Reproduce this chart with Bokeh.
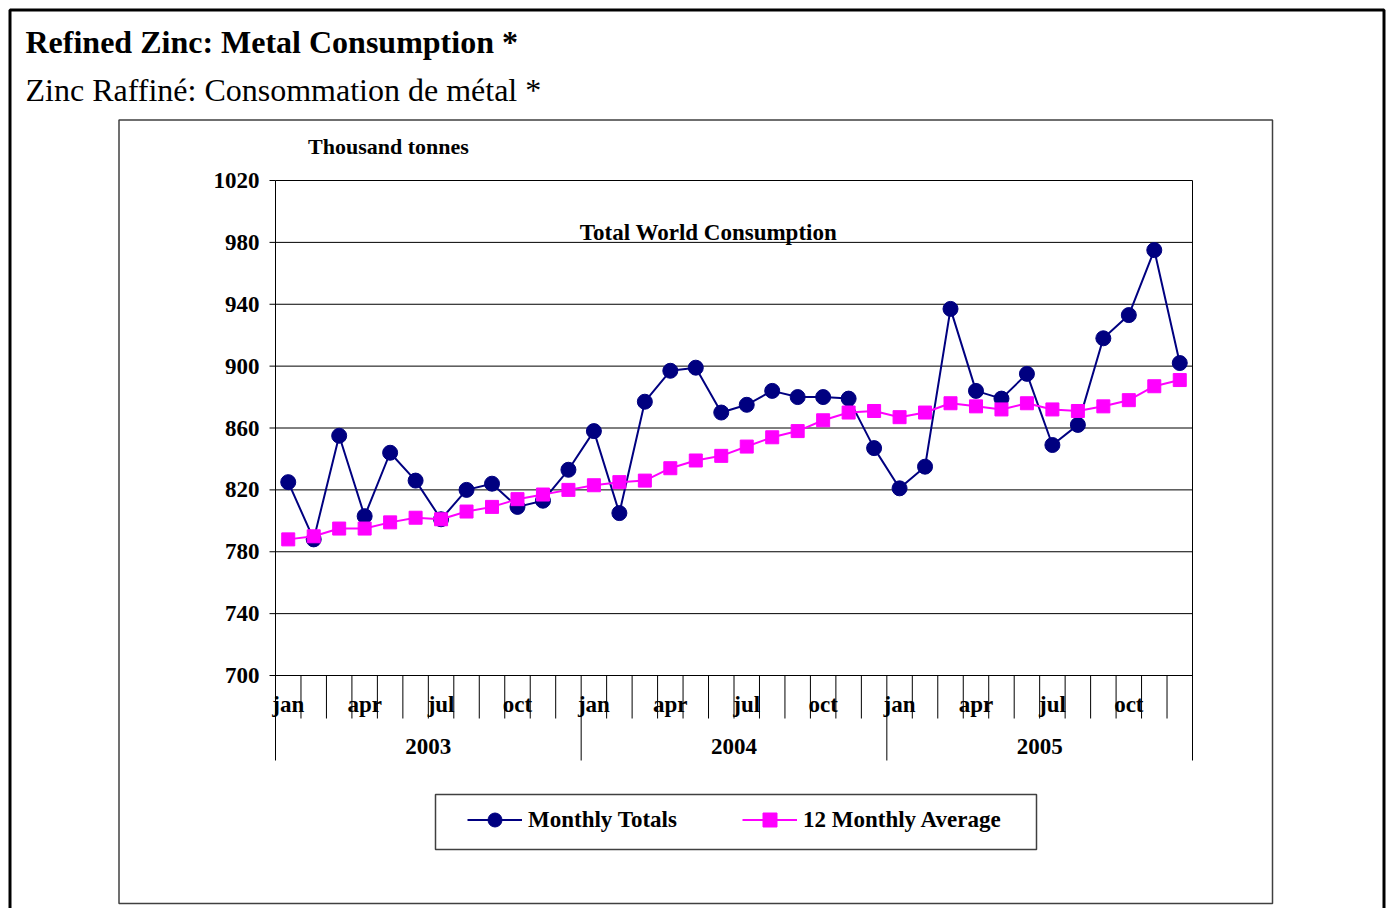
from bokeh.plotting import figure
from bokeh.models import Range1d, Label, BoxAnnotation, Legend, LegendItem
from bokeh.core.properties import value
from bokeh.embed import file_html
from bokeh.resources import INLINE

# ---------------- data ----------------
month_names = ["jan", "feb", "mar", "apr", "may", "jun",
               "jul", "aug", "sep", "oct", "nov", "dec"]
labelled_months = ["jan", "apr", "jul", "oct"]
years = ["2003", "2004", "2005"]
monthly_totals = [825, 788, 855, 803, 844, 826, 801, 820, 824, 809, 813, 833,
                  858, 805, 877, 897, 899, 870, 875, 884, 880, 880, 879, 847,
                  821, 835, 937, 884, 879, 895, 849, 862, 918, 933, 975, 902]
avg_12_months = [788, 790, 795, 795, 799, 802, 801, 806, 809, 814, 817, 820,
                 823, 825, 826, 834, 839, 842, 848, 854, 858, 865, 870, 871,
                 867, 870, 876, 874, 872, 876, 872, 871, 874, 878, 887, 891]
y_ticks = [700, 740, 780, 820, 860, 900, 940, 980, 1020]

title_text = "Refined Zinc: Metal Consumption *"
subtitle_text = "Zinc Raffiné: Consommation de métal *"
unit_text = "Thousand tonnes"
chart_title = "Total World Consumption"
series_names = ["Monthly Totals", "12 Monthly Average"]

# ---------------- layout (canvas pixels) ----------------
W, H = 1386, 908
PL, PR, PT = 275, 1192, 180          # plot area left / right / top (1020 line)
AXIS_Y = 675                         # pixel row of the 700 line
FB = 760                             # bottom of the year separators
n_months = len(monthly_totals)
Y_MIN, Y_MAX = y_ticks[0], y_ticks[-1]
ppu_y = (AXIS_Y - PT) / (Y_MAX - Y_MIN)
ppu_x = (PR - PL) / n_months


def xd(px):
    return (px - PL) / ppu_x


def yd(py):
    return Y_MIN + (AXIS_Y - py) / ppu_y


SERIF = "Liberation Serif"
FS = "23px"

p = figure(width=W, height=H, output_backend="svg", toolbar_location=None,
           x_range=Range1d(xd(0), xd(W)), y_range=Range1d(yd(H), yd(0)),
           x_axis_type=None, y_axis_type=None,
           min_border_left=0, min_border_right=0, min_border_top=0, min_border_bottom=0)
p.outline_line_color = None
p.background_fill_color = "white"
p.border_fill_color = "white"
p.xgrid.visible = False
p.ygrid.visible = False

x_left, x_right = 0, n_months
y_low = yd(FB)

# horizontal gridlines (incl. the category axis at 700 and top at 1020)
p.segment(x0=[x_left] * len(y_ticks), y0=y_ticks, x1=[x_right] * len(y_ticks), y1=y_ticks,
          line_color="black", line_width=1)
# value-axis tick marks
p.segment(x0=[xd(PL - 6)] * len(y_ticks), y0=y_ticks, x1=[x_left] * len(y_ticks), y1=y_ticks,
          line_color="black", line_width=1)
# left and right frame lines
p.segment(x0=[x_left, x_right], y0=[y_low, y_low], x1=[x_left, x_right], y1=[Y_MAX, Y_MAX],
          line_color="black", line_width=1)
# value-axis labels
p.text(x=[xd(PL - 16)] * len(y_ticks), y=y_ticks, text=[str(t) for t in y_ticks],
       text_align="right", text_baseline="middle", text_font=value(SERIF),
       text_font_style="bold", text_font_size=FS, text_color="black")

# month tick marks / year separators (category boundaries)
b_x, b_y1 = [], []
for b in range(1, n_months):
    b_x.append(b)
    b_y1.append(y_low if b % 12 == 0 else yd(718))
p.segment(x0=b_x, y0=[Y_MIN] * len(b_x), x1=b_x, y1=b_y1, line_color="black", line_width=1)

# month and year labels
ml_x, ml_t = [], []
for i in range(n_months):
    name = month_names[i % 12]
    if name in labelled_months:
        ml_x.append(i + 0.5)
        ml_t.append(name)
p.text(x=ml_x, y=[yd(704)] * len(ml_x), text=ml_t, text_align="center",
       text_baseline="middle", text_font=value(SERIF), text_font_style="bold",
       text_font_size=FS, text_color="black")
yl_x = [12 * k + 6 for k in range(len(years))]
p.text(x=yl_x, y=[yd(746)] * len(yl_x), text=years, text_align="center",
       text_baseline="middle", text_font=value(SERIF), text_font_style="bold",
       text_font_size=FS, text_color="black")

# series
xs = [i + 0.5 for i in range(n_months)]
NAVY = "#000080"
MAG = "#FF00FF"
r1l = p.line(xs, monthly_totals, line_color=NAVY, line_width=2)
r1s = p.scatter(xs, monthly_totals, marker="circle", size=15,
                fill_color=NAVY, line_color=NAVY)
r2l = p.line(xs, avg_12_months, line_color=MAG, line_width=2)
r2s = p.scatter(xs, avg_12_months, marker="square", size=13,
                fill_color=MAG, line_color=MAG)

# legend
legend = Legend(items=[LegendItem(label=series_names[0], renderers=[r1l, r1s]),
                       LegendItem(label=series_names[1], renderers=[r2l, r2s])],
                orientation="horizontal", location=(467, H - 837),
                padding=0, margin=0, spacing=59, glyph_width=55, glyph_height=35,
                label_standoff=6, label_width=155, border_line_alpha=0,
                background_fill_alpha=0, label_text_font=SERIF,
                label_text_font_style="bold", label_text_font_size=FS,
                label_text_color="black")
p.add_layout(legend, "center")

# boxes
p.add_layout(BoxAnnotation(left=xd(435), right=xd(1036), top=yd(794), bottom=yd(849),
                           fill_alpha=0, line_color="#404040", line_alpha=1, line_width=1.5))
p.add_layout(BoxAnnotation(left=xd(118.5), right=xd(1272), top=yd(119.5), bottom=yd(903),
                           fill_alpha=0, line_color="#404040", line_alpha=1, line_width=1.5))
p.add_layout(BoxAnnotation(left=xd(9.5), right=xd(1383.5), top=yd(9.5), bottom=yd(930),
                           fill_alpha=0, line_color="black", line_alpha=1, line_width=3))

# texts
p.add_layout(Label(x=xd(25), y=yd(41), text=title_text, text_font=SERIF,
                   text_font_style="bold", text_font_size="32px",
                   text_color="black", text_baseline="alphabetic"))
p.add_layout(Label(x=xd(25), y=yd(89), text=subtitle_text, text_font=SERIF,
                   text_font_style="normal", text_font_size="32px",
                   text_color="black", text_baseline="alphabetic"))
p.add_layout(Label(x=xd(388), y=yd(146), text=unit_text, text_font=SERIF,
                   text_font_style="bold", text_font_size="22px",
                   text_color="black", text_baseline="middle", text_align="center"))
p.add_layout(Label(x=xd(708), y=yd(232), text=chart_title, text_font=SERIF,
                   text_font_style="bold", text_font_size=FS,
                   text_color="black", text_baseline="middle", text_align="center"))

open("out.html", "w").write(file_html(p, INLINE))
